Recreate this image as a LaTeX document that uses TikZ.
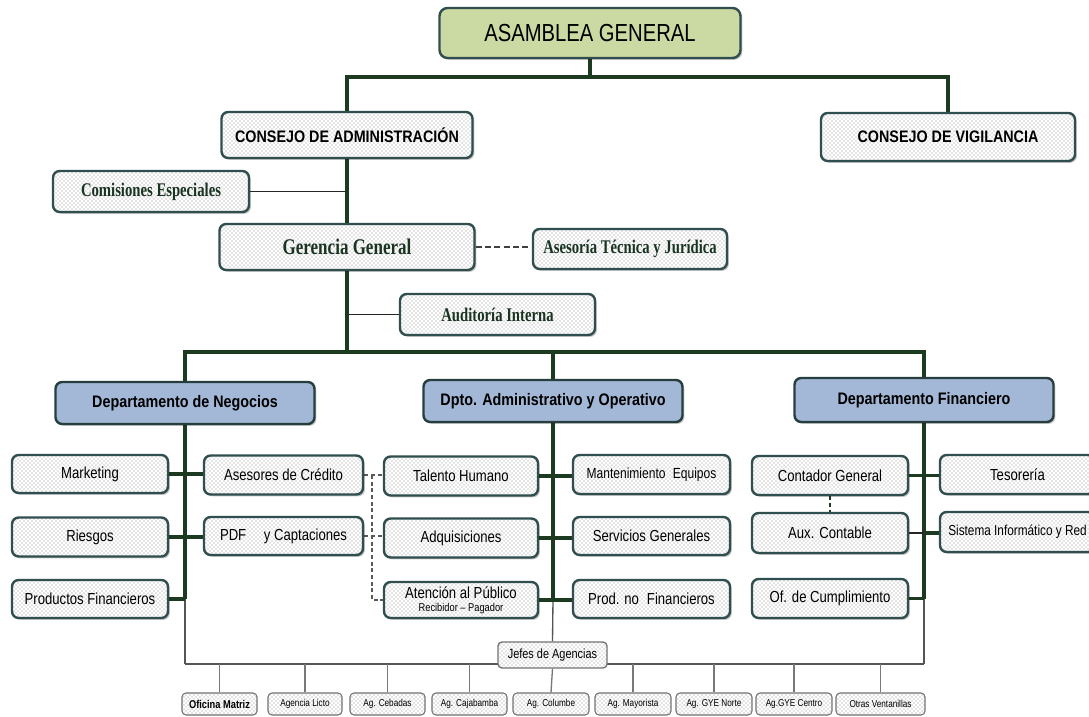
\documentclass[tikz,border=0pt]{standalone}
\usepackage{fontspec}
\setmainfont{Liberation Sans}
\newfontfamily\cond[FakeStretch=0.82]{Liberation Sans}
\newfontfamily\condb[FakeStretch=0.86]{Liberation Sans}
\newfontfamily\condserif[FakeStretch=0.76]{Liberation Serif}
\usetikzlibrary{patterns,shadows}

\definecolor{trunk}{RGB}{28,58,32}
\definecolor{edge}{RGB}{48,78,78}
\definecolor{asamfill}{RGB}{203,217,163}
\definecolor{deptfill}{RGB}{163,184,214}
\definecolor{serifink}{RGB}{26,52,34}
\definecolor{dots}{RGB}{145,145,145}
\definecolor{busgray}{RGB}{85,85,85}
\definecolor{aggray}{RGB}{120,120,120}

\pgfdeclarelayer{bg}
\pgfsetlayers{bg,main}

\tikzset{
  shade box/.style={drop shadow={shadow xshift=1.4pt, shadow yshift=-1.4pt, opacity=.22, fill=black}},
  orgbox/.style={draw=edge, line width=1.8pt, rounded corners=5pt, shade box,
    preaction={fill=white}, pattern=crosshatch dots, pattern color=dots,
    inner sep=0pt, align=center},
  topbox/.style={draw=edge, line width=1.8pt, rounded corners=6pt, shade box,
    fill=asamfill, inner sep=0pt, align=center},
  deptbox/.style={draw=edge!80!black, line width=1.8pt, rounded corners=5pt, shade box,
    fill=deptfill, inner sep=0pt, align=center},
  agbox/.style={draw=black!55, line width=0.8pt, rounded corners=3pt,
    preaction={fill=white}, pattern=crosshatch dots, pattern color=dots,
    inner sep=0pt, align=center},
  subtxt/.style={font=\cond\fontsize{12}{13}\selectfont},
  headtxt/.style={font=\condb\bfseries\fontsize{12.5}{14}\selectfont},
  seriftxt/.style={font=\condserif\bfseries\fontsize{14.5}{16}\selectfont, text=serifink},
  agtxt/.style={font=\cond\fontsize{7.5}{9}\selectfont},
  trunkbig/.style={draw=trunk, line width=3.2pt},
  trunkmid/.style={draw=trunk, line width=2.4pt},
  branchline/.style={draw=black!85, line width=1pt},
  dashlink/.style={draw=black!65, line width=0.8pt, dash pattern=on 3pt off 2pt},
  busline/.style={draw=busgray, line width=1pt},
  agline/.style={draw=aggray, line width=1pt},
}

\begin{document}
\begin{tikzpicture}[x=0.75pt,y=-0.75pt]
\begin{pgfonlayer}{bg}
  \fill[white] (0,0) rectangle (1089,717);
\end{pgfonlayer}
\useasboundingbox (0,0) rectangle (1089,717);

% bus levels
\coordinate (tb) at (0,77);
\coordinate (mb) at (0,352);
\coordinate (bb) at (0,664);
\coordinate (dl) at (372,0);

% ---- governing bodies
\node[topbox, minimum width=301*.75pt, minimum height=50*.75pt] (asam) at (590,33)
  {\cond\fontsize{18.5}{20}\selectfont ASAMBLEA GENERAL};
\node[orgbox, headtxt, minimum width=251*.75pt, minimum height=46*.75pt] (cadm) at (347,135)
  {CONSEJO DE ADMINISTRACIÓN};
\node[orgbox, headtxt, minimum width=254*.75pt, minimum height=48*.75pt] (cvig) at (948,137)
  {CONSEJO DE VIGILANCIA};
\node[orgbox, seriftxt, minimum width=196*.75pt, minimum height=41*.75pt] (comis) at (151,191.5)
  {Comisiones Especiales};
\node[orgbox, seriftxt, font=\condserif\bfseries\fontsize{16.8}{18}\selectfont,
  minimum width=255*.75pt, minimum height=46*.75pt] (geren) at (347,247)
  {Gerencia General};
\node[orgbox, seriftxt, minimum width=194*.75pt, minimum height=40*.75pt] (asesoria) at (630,249)
  {Asesoría Técnica y Jurídica};
\node[orgbox, seriftxt, minimum width=195*.75pt, minimum height=41*.75pt] (audit) at (497.5,314.5)
  {Auditoría Interna};

% ---- departments
\node[deptbox, headtxt, minimum width=259*.75pt, minimum height=42*.75pt] (dneg) at (185,403)
  {Departamento de Negocios};
\node[deptbox, headtxt, minimum width=259*.75pt, minimum height=42*.75pt] (dadm) at (553,401)
  {Dpto. Administrativo y Operativo};
\node[deptbox, headtxt, minimum width=259*.75pt, minimum height=44*.75pt] (dfin) at (924,400)
  {Departamento Financiero};

% ---- business units
\node[orgbox, subtxt, minimum width=156*.75pt, minimum height=38*.75pt] (mkt) at (90,474) {Marketing};
\node[orgbox, subtxt, minimum width=156*.75pt, minimum height=39*.75pt] (ries) at (90,537) {Riesgos};
\node[orgbox, subtxt, minimum width=156*.75pt, minimum height=38*.75pt] (prodf) at (90,599) {Productos Financieros};
\node[orgbox, subtxt, minimum width=159*.75pt, minimum height=39*.75pt] (asesc) at (283.5,475) {Asesores de Crédito};
\node[orgbox, subtxt, minimum width=159*.75pt, minimum height=38*.75pt] (pdf) at (283.5,536) {PDF\hspace{1.1em}y Captaciones};

% ---- administrative units
\node[orgbox, subtxt, minimum width=154*.75pt, minimum height=39*.75pt] (tal) at (461,476) {Talento Humano};
\node[orgbox, subtxt, minimum width=154*.75pt, minimum height=39*.75pt] (adq) at (461,538) {Adquisiciones};
\node[orgbox, subtxt, minimum width=154*.75pt, minimum height=36*.75pt] (aten) at (461,600)
  {Atención al Público\\[-3pt]{\fontsize{8.5}{9}\selectfont Recibidor – Pagador}};
\node[orgbox, subtxt, font=\cond\fontsize{11}{12}\selectfont,
  minimum width=157*.75pt, minimum height=39*.75pt] (mant) at (651.5,474.5) {Mantenimiento\hspace{0.5em}Equipos};
\node[orgbox, subtxt, minimum width=157*.75pt, minimum height=38*.75pt] (serv) at (651.5,536) {Servicios Generales};
\node[orgbox, subtxt, minimum width=157*.75pt, minimum height=38*.75pt] (prodn) at (651.5,599) {Prod. no\hspace{0.5em}Financieros};

% ---- financial units
\node[orgbox, subtxt, minimum width=156*.75pt, minimum height=39*.75pt] (cont) at (830,475.5) {Contador General};
\node[orgbox, subtxt, minimum width=156*.75pt, minimum height=40*.75pt] (aux) at (830,533) {Aux. Contable};
\node[orgbox, subtxt, minimum width=156*.75pt, minimum height=39*.75pt] (ofc) at (830,598.5) {Of. de Cumplimiento};
\node[orgbox, subtxt, minimum width=155*.75pt, minimum height=39*.75pt] (teso) at (1017.5,474.5) {Tesorería};
\node[orgbox, subtxt, font=\cond\fontsize{10.8}{12}\selectfont,
  minimum width=155*.75pt, minimum height=40*.75pt] (sis) at (1017.5,532) {Sistema Informático y Red};

% ---- branches
\node[agbox, font=\cond\fontsize{10}{11}\selectfont, line width=1pt,
  minimum width=109*.75pt, minimum height=26*.75pt] (jefes) at (552.5,655) {Jefes de Agencias};
\foreach \nm/\cx/\w/\txt in {
    lic/305/74/Agencia Licto,
    ceb/387.5/75/Ag. Cebadas,
    caj/469.5/75/Ag. Cajabamba,
    col/551/76/Ag. Columbe,
    may/633/76/Ag. Mayorista,
    gyn/714/76/Ag. GYE Norte,
    gyc/794/76/Ag.GYE Centro,
    otr/880.5/89/Otras Ventanillas}{
  \node[agbox, agtxt, minimum width=\w*.75pt, minimum height=22*.75pt] (\nm) at (\cx,704) {\txt};
}
\node[agbox, font=\cond\bfseries\fontsize{8.5}{10}\selectfont,
  minimum width=75*.75pt, minimum height=22*.75pt] (mat) at (219.5,704) {Oficina Matriz};

% ---- connectors
\begin{pgfonlayer}{bg}
  % top levels
  \draw[trunkbig] (asam.south) -- (asam.south |- tb);
  \draw[trunkbig] (cadm.north) |- (cvig.north |- tb) -- (cvig.north);
  \draw[trunkbig] (cadm.south) -- (geren.north);
  \draw[branchline] (comis.east) -- (comis.east -| cadm.south);
  \draw[dashlink, draw=black!75, dash pattern=on 4.5pt off 2.5pt] (geren.east) -- (geren.east -| asesoria.west);
  \draw[trunkbig] (geren.south) -- (geren.south |- mb);
  \draw[branchline] (audit.west) -- (audit.west -| geren.south);
  \draw[trunkbig] (dneg.north) |- (dfin.north |- mb) -- (dfin.north);
  \draw[trunkbig] (dadm.north) -- (dadm.north |- mb);

  % business department
  \draw[trunkmid] (dneg.south) -- (dneg.south |- prodf.east);
  \draw[busline] (dneg.south |- prodf.east) -- (dneg.south |- bb);
  \draw[trunkmid] (mkt.east) -- (mkt.east -| asesc.west);
  \draw[trunkmid] (ries.east) -- (ries.east -| pdf.west);
  \draw[trunkmid] (prodf.east) -- (prodf.east -| dneg.south);

  % administrative department
  \draw[trunkmid] (dadm.south) -- (dadm.south |- aten.east);
  \draw[busline] (dadm.south |- aten.east) -- (jefes.north);
  \draw[trunkmid] (tal.east) -- (tal.east -| mant.west);
  \draw[trunkmid] (adq.east) -- (adq.east -| serv.west);
  \draw[trunkmid] (aten.east) -- (aten.east -| prodn.west);

  % financial department
  \draw[trunkmid] (dfin.south) -- (dfin.south |- ofc.east);
  \draw[busline] (dfin.south |- ofc.east) -- (dfin.south |- bb);
  \draw[trunkmid] (cont.east) -- (cont.east -| teso.west);
  \draw[branchline] (aux.east) -- (aux.east -| dfin.south);
  \draw[trunkmid] (aux.east -| dfin.south) -- (aux.east -| sis.west);
  \draw[trunkmid] (ofc.east) -- (ofc.east -| dfin.south);
  \draw[draw=trunk, line width=2pt, dash pattern=on 3pt off 2pt] (cont.south) -- (aux.north);

  % coordination between credit and administration
  \draw[dashlink] (asesc.east) -- (asesc.east -| tal.west);
  \draw[dashlink] (pdf.east) -- (pdf.east -| adq.west);
  \draw[dashlink] (dl |- asesc.east) -- (dl |- aten.west) -- (aten.west);

  % branch network
  \draw[busline] (dneg.south |- bb) -- (dfin.south |- bb);
  \draw[agline] (jefes.south) -- (col.north);
  \foreach \nm in {mat,lic,ceb,caj,may,gyn,gyc,otr}
    \draw[agline] (\nm.north |- bb) -- (\nm.north);
\end{pgfonlayer}
\end{tikzpicture}
\end{document}
